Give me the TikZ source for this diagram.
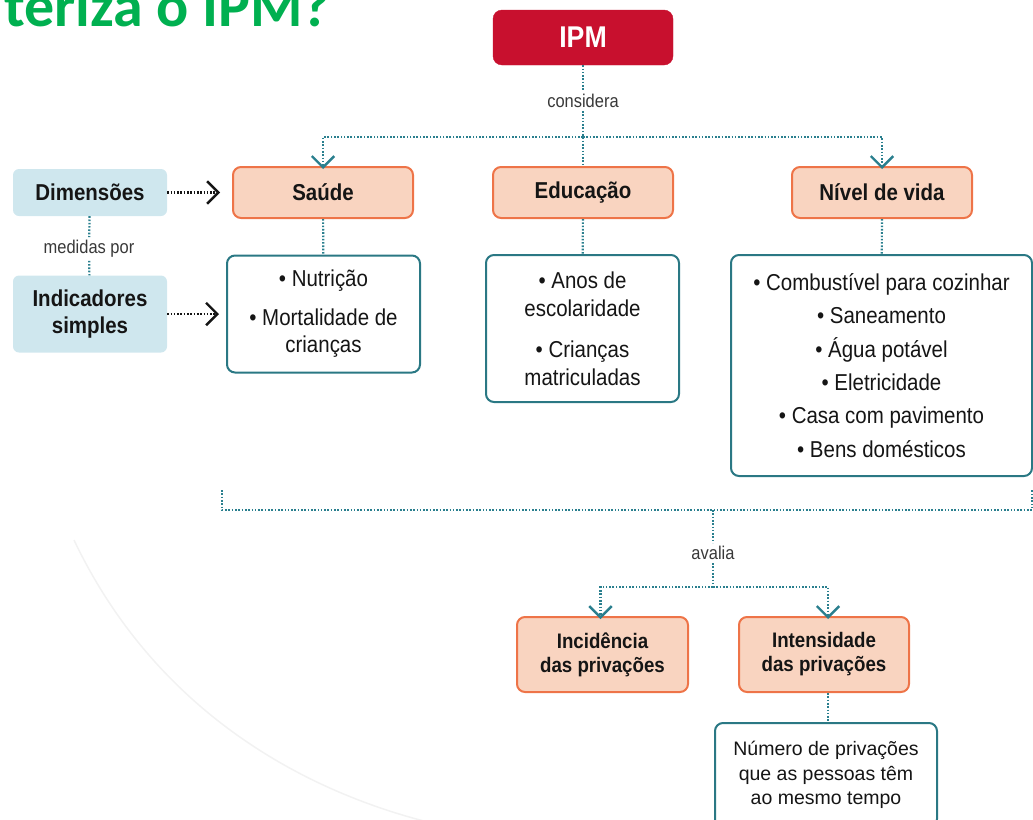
\documentclass[tikz,border=0pt]{standalone}
\usepackage{fontspec}
\setmainfont{Liberation Sans}
\newfontfamily\cond[FakeStretch=0.89]{Liberation Sans}
\newfontfamily\titlefont{Carlito}
\usetikzlibrary{arrows.meta,calc}
\definecolor{ipmred}{HTML}{C8102E}
\definecolor{peach}{HTML}{F9D4C0}
\definecolor{orangeb}{HTML}{EE7448}
\definecolor{lblue}{HTML}{CFE7EE}
\definecolor{tealb}{HTML}{2A7884}
\definecolor{teald}{HTML}{2A7F8E}
\definecolor{titlegreen}{HTML}{00B050}
\definecolor{txt}{HTML}{151515}
\tikzset{
  ipmbox/.style={draw=ipmred, fill=ipmred, rounded corners=9pt, minimum width=180pt, minimum height=55pt, inner sep=0pt, text=white, font=\cond\bfseries\fontsize{30}{32}\selectfont},
  dimbox/.style={draw=orangeb, fill=peach, line width=2pt, rounded corners=8pt, inner sep=0pt, align=center, text=txt, font=\cond\bfseries\fontsize{23}{25}\selectfont},
  resbox/.style={draw=orangeb, fill=peach, line width=2pt, rounded corners=8pt, inner sep=0pt, align=center, text=txt, font=\cond\bfseries\fontsize{21}{24}\selectfont},
  sidebox/.style={fill=lblue, rounded corners=6pt, inner sep=0pt, align=center, text=txt, font=\cond\bfseries\fontsize{23}{27}\selectfont},
  listbox/.style={draw=tealb, fill=white, line width=2pt, rounded corners=8pt, inner sep=0pt, align=center, text=txt},
  lbl/.style={inner sep=3pt, text=txt!85, font=\cond\fontsize{18.5}{20}\selectfont},
  dotline/.style={draw=teald, line width=2.2pt, dash pattern=on 1.6pt off 1.7pt},
  chev/.tip={Straight Barb[length=9pt,width=18pt,line width=2.4pt,scale=1.25]},
  dotarrow/.style={dotline, -chev},
  blackarrow/.style={draw=txt, line width=2.2pt, dash pattern=on 1.6pt off 1.7pt, -chev},
}
\begin{document}
\begin{tikzpicture}[x=1pt,y=-1pt]
\useasboundingbox (0,0) rectangle (1033,819);
\clip (0,0) rectangle (1033,819);

% faint background arc
\draw[black!5, line width=1.5pt] (74,540) .. controls (150,700) and (290,790) .. (440,825);

% title (cut off)
\node[anchor=base east, inner sep=0pt, text=titlegreen, font=\titlefont\bfseries\fontsize{60}{62}\selectfont] (title) at (331,27) {teriza o IPM?};

% top
\node[ipmbox] (ipm) at (583,37.5) {IPM};
\node[lbl] (considera) at (583,101) {considera};

\node[dimbox, minimum width=180pt, minimum height=51pt] (saude) at (323,192.5) {Saúde};
\node[dimbox, minimum width=180pt, minimum height=51pt] (edu) at (583,192.5) {Educação};
\node[dimbox, minimum width=180pt, minimum height=51pt] (nivel) at (882,192.5) {Nível de vida};

\node[sidebox, minimum width=154pt, minimum height=47pt] (dim) at (90,192.5) {Dimensões};
\node[sidebox, minimum width=154pt, minimum height=77pt] (ind) at (90,314) {Indicadores\\simples};
\node[lbl] (medidas) at (89,249) {medidas por};

\node[listbox, minimum width=193pt, minimum height=117pt, font=\cond\fontsize{23}{27}\selectfont] (saudelist) at (323.5,314) {• Nutrição\\[12pt]• Mortalidade de\\crianças};
\node[listbox, minimum width=193pt, minimum height=147pt, font=\cond\fontsize{23}{28}\selectfont] (edulist) at (582.5,328.5) {• Anos de\\escolaridade\\[13pt]• Crianças\\matriculadas};
\node[listbox, minimum width=301pt, minimum height=221pt, font=\cond\fontsize{23}{33.4}\selectfont] (nivellist) at (881.5,365.5) {• Combustível para cozinhar\\• Saneamento\\• Água potável\\• Eletricidade\\• Casa com pavimento\\• Bens domésticos};

% bottom
\node[lbl] (avalia) at (713,553) {avalia};
\node[resbox, minimum width=171pt, minimum height=75pt] (inc) at (602.5,654.5) {Incidência\\das privações};
\node[resbox, minimum width=170pt, minimum height=75pt] (int) at (824,654.5) {Intensidade\\das privações};
\node[listbox, minimum width=222pt, minimum height=104pt, font=\fontsize{19.5}{24.5}\selectfont] (numero) at (826,775) {Número de privações\\que as pessoas têm\\ao mesmo tempo};

% coordinates
\coordinate (bar1) at (583,137);
\coordinate (bl) at (222,490);
\coordinate (br) at (1032,490);
\coordinate (bll) at (222,510);
\coordinate (brr) at (1032,510);
\coordinate (mid) at (713,510);
\coordinate (bar2) at (713,587);

% connectors top
\draw[dotline] (ipm) -- (considera);
\draw[dotline] (considera) -- (edu);
\draw[dotarrow] (bar1) -| ([yshift=-3pt]saude.north);
\draw[dotarrow] (bar1) -| ([yshift=-3pt]nivel.north);

\draw[blackarrow, shorten >=12pt] (dim) -- (saude);
\draw[blackarrow, shorten >=7pt] (ind.east) -- (ind.east -| saudelist.west);
\draw[dotline] (dim) -- (medidas);
\draw[dotline] (medidas) -- (ind);

\draw[dotline] (saude) -- (saudelist);
\draw[dotline] (edu) -- (edulist);
\draw[dotline] (nivel) -- (nivellist);

% connectors bottom
\draw[dotline] (bl) -- (bll) -- (brr) -- (br);
\draw[dotline] (mid) -- (avalia);
\draw[dotline] (avalia) -- (bar2);
\draw[dotarrow] (bar2) -| ([xshift=-2pt,yshift=-3pt]inc.north);
\draw[dotarrow] (bar2) -| ([xshift=4pt,yshift=-3pt]int.north);
\draw[dotline] ([xshift=4pt]int.south) -- ([xshift=4pt]int.south |- numero.north);
\end{tikzpicture}
\end{document}
